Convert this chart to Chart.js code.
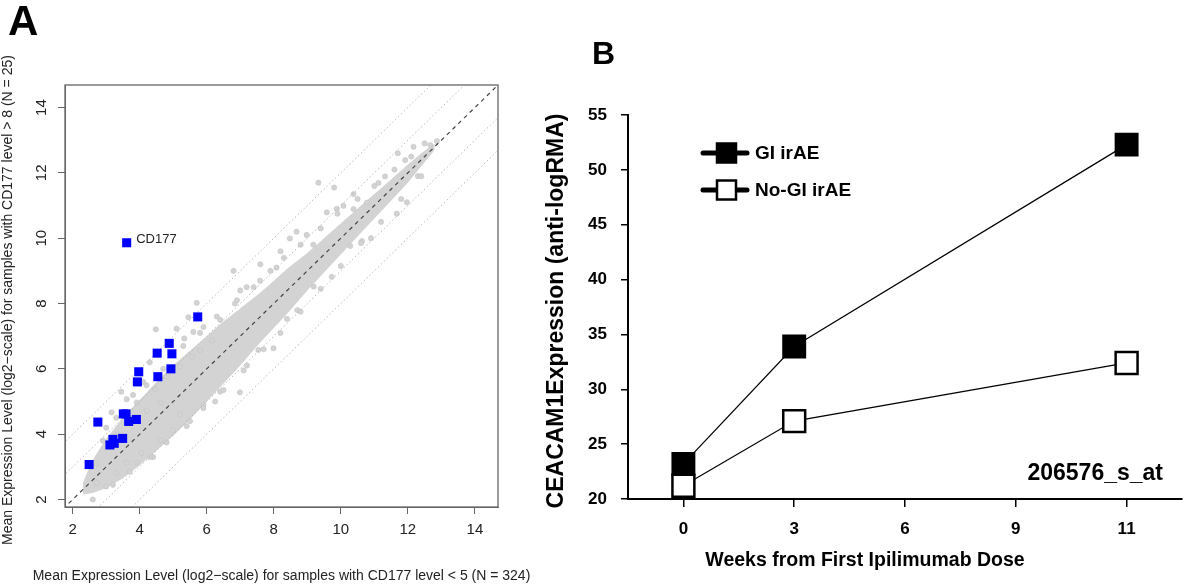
<!DOCTYPE html>
<html><head><meta charset="utf-8">
<script src="https://cdn.jsdelivr.net/npm/chart.js@4/dist/chart.umd.min.js"></script>
<style>
html,body{margin:0;padding:0;background:#fff;width:1200px;height:586px;overflow:hidden}
#wrap{position:relative;width:1200px;height:586px}
canvas{position:absolute;top:0}
#cA{left:0}
#cB{left:520px}
</style></head><body>
<div id="wrap"><canvas id="cA" width="545" height="586"></canvas><canvas id="cB" width="680" height="586"></canvas></div>
<script>
// ---------- Panel A data ----------
const xTicksA = [2, 4, 6, 8, 10, 12, 14];
const yTicksA = [2, 4, 6, 8, 10, 12, 14];
const xTitleA = 'Mean Expression Level (log2\u2212scale) for samples with CD177 level < 5 (N = 324)';
const yTitleA = 'Mean Expression Level (log2\u2212scale) for samples with CD177 level > 8 (N = 25)';
const blueX = [3.61, 5.73, 4.88, 4.52, 4.96, 4.93, 3.97, 4.54, 3.93, 3.51, 3.59, 2.75, 3.67, 3.90, 3.49, 3.20, 3.11, 3.24, 2.49];
const blueY = [9.86, 7.59, 6.78, 6.48, 6.46, 6.00, 5.91, 5.76, 5.60, 4.62, 4.62, 4.37, 4.39, 4.45, 3.87, 3.84, 3.67, 3.72, 3.07];
const blueLabels = ['CD177'];
// dense cloud of genes: edges of the band
const bandX     = [2.3, 2.6, 3.0, 3.5, 4.0, 4.5, 5.0, 5.5, 6.0, 6.5, 7.0, 7.5, 8.0, 8.5, 9.0, 9.5, 10.0, 10.5, 11.0, 11.5, 12.0, 12.4, 12.8];
const bandUpper = [2.5, 3.2, 3.85, 4.5, 5.05, 5.6, 6.1, 6.55, 7.0, 7.45, 7.85, 8.25, 8.7, 9.15, 9.55, 10.0, 10.45, 10.9, 11.35, 11.8, 12.25, 12.6, 12.9];
const bandLower = [2.15, 2.2, 2.35, 2.65, 3.05, 3.5, 3.95, 4.45, 5.0, 5.55, 6.1, 6.7, 7.25, 7.8, 8.4, 8.95, 9.5, 10.05, 10.6, 11.15, 11.7, 12.2, 12.7];
// scattered genes around and outside the dense band
const grayX = [2.71, 3.16, 3.56, 3.31, 4.21, 4.61, 3.61, 3.91, 4.46, 4.81, 5.21, 5.56, 5.80, 6.15, 4.48, 5.10, 5.33, 5.60, 5.90, 6.40, 5.45, 5.70, 6.84, 6.80, 7.19, 7.59, 8.08, 8.48, 8.68, 8.98, 9.18, 9.58, 10.08, 10.38, 10.78, 11.12, 11.32, 11.92, 9.33, 9.80, 11.70, 12.17, 12.67, 12.87, 10.38, 9.88, 3.00, 2.90, 3.45, 4.10, 4.30, 7.00, 7.60, 8.20,
               6.99, 7.54, 7.99, 8.39, 9.73, 11.97, 11.67, 10.63, 10.28, 9.19, 6.40, 6.25, 5.00, 4.61, 4.05, 3.61, 3.31, 3.91, 2.72, 5.50, 5.90, 7.20, 8.70, 10.90, 12.30, 4.40, 5.20, 3.00,
               3.3, 3.8, 4.2, 4.7, 5.3, 5.8, 6.3, 6.9, 7.4, 7.9, 8.3, 8.8, 9.4, 9.9, 10.5, 11.0, 11.6, 12.1, 12.5,
               3.2, 3.7, 4.3, 4.8, 5.4, 5.9, 6.5, 7.1, 7.7, 8.2, 8.8, 9.4, 10.0, 10.6, 11.2, 11.8, 12.4, 2.6];
const grayY = [3.10, 4.67, 4.57, 3.97, 4.72, 4.97, 5.07, 4.97, 5.37, 5.77, 6.07, 6.37, 6.57, 6.87, 7.21, 7.23, 6.93, 7.13, 7.28, 7.50, 7.58, 8.02, 8.00, 9.00, 8.50, 8.70, 9.10, 9.99, 10.20, 10.10, 9.80, 10.79, 10.99, 10.89, 11.09, 11.69, 11.89, 12.39, 11.70, 11.55, 12.60, 12.80, 12.85, 12.97, 11.35, 10.90, 4.20, 3.80, 5.30, 5.60, 6.20, 8.40, 9.20, 9.60,
               5.28, 6.58, 6.63, 7.53, 8.82, 11.10, 10.75, 9.91, 9.76, 8.52, 5.30, 5.00, 4.12, 3.82, 3.42, 3.12, 2.82, 3.12, 2.50, 4.40, 4.90, 6.10, 7.80, 10.00, 11.90, 3.30, 4.60, 2.40,
               4.5, 5.2, 5.5, 6.0, 6.7, 7.1, 7.6, 8.1, 8.5, 9.0, 9.4, 9.8, 10.3, 10.75, 11.2, 11.6, 12.1, 12.5, 12.9,
               2.45, 2.85, 3.3, 3.75, 4.25, 4.8, 5.35, 5.95, 6.6, 7.1, 7.75, 8.45, 9.15, 9.85, 10.5, 11.2, 11.9, 2.0];
const refOffsets = [-2, -1, 0, 1, 2];

// ---------- Panel B data ----------
const weeks = ['0', '3', '6', '9', '11'];
const giIrAE   = [23.2, 33.9, null, null, 52.3];
const noGiIrAE = [21.2, 27.1, null, null, 32.4];
const yTicksB = [20, 25, 30, 35, 40, 45, 50, 55];
const seriesNames = ['GI irAE', 'No-GI irAE'];
const probeLabel = '206576_s_at';
const xTitleB = 'Weeks from First Ipilimumab Dose';
const yTitleB = 'CEACAM1Expression (anti-logRMA)';

const FAM = '"Liberation Sans", Arial, Helvetica, sans-serif';
Chart.defaults.font.family = FAM;
Chart.defaults.animation = false;

// ---------- Panel A ----------
const pts = (xs, ys) => xs.map((v, i) => ({x: v, y: ys[i]}));
const AMIN = 1.77, AMAX = 14.69;
const refDatasets = refOffsets.map(k => ({
  type: 'line',
  data: [{x: 0, y: 0 + k}, {x: 16, y: 16 + k}],
  borderColor: k === 0 ? '#444' : '#b8b8b8',
  borderWidth: k === 0 ? 1.2 : 1,
  borderDash: k === 0 ? [4, 4] : [1.5, 2.5],
  pointRadius: 0, fill: false, order: 1
}));

const panelAPlugin = {
  id: 'panelA',
  afterDraw(chart) {
    const {ctx, chartArea: a, scales: {x, y}} = chart;
    ctx.save();
    ctx.strokeStyle = '#666'; ctx.lineWidth = 1.3;
    ctx.strokeRect(a.left, a.top, a.right - a.left, a.bottom - a.top);
    ctx.fillStyle = '#222';
    ctx.font = '15px ' + FAM;
    ctx.textAlign = 'center'; ctx.textBaseline = 'middle';
    yTicksA.forEach(v => {
      const py = y.getPixelForValue(v);
      ctx.save(); ctx.translate(a.left - 23, py); ctx.rotate(-Math.PI / 2);
      ctx.fillText(String(v), 0, 0); ctx.restore();
    });
    // axis titles
    ctx.font = '14px ' + FAM;
    ctx.fillText(xTitleA, (a.left + a.right) / 2, 576);
    ctx.save(); ctx.translate(8, (a.top + a.bottom) / 2 + 4); ctx.rotate(-Math.PI / 2);
    ctx.fillText(yTitleA, 0, 0); ctx.restore();
    // CD177 label
    const px = x.getPixelForValue(blueX[0]), py = y.getPixelForValue(blueY[0]);
    ctx.textAlign = 'left'; ctx.font = '13px ' + FAM;
    ctx.fillText(blueLabels[0], px + 9.5, py - 3);
    ctx.fillStyle = '#000'; ctx.font = 'bold 42px ' + FAM;
    ctx.textBaseline = 'alphabetic';
    ctx.fillText('A', 8, 35);
    ctx.restore();
  }
};

new Chart(document.getElementById('cA'), {
  type: 'scatter',
  data: {
    datasets: [
      {label: 'genes', data: pts(blueX, blueY), pointStyle: 'rect', pointRadius: 6.4, backgroundColor: '#0000ff', borderColor: '#0000ff', borderWidth: 0, order: 0},
      ...refDatasets,
      {label: 'scatter', data: pts(grayX, grayY), pointRadius: 2.6, backgroundColor: '#d3d3d3', borderColor: '#c4c4c4', borderWidth: 0.6, order: 2},
      {type: 'line', label: 'bandLow', data: pts(bandX, bandLower), borderWidth: 0, pointRadius: 0, fill: false, order: 3, borderColor: 'rgba(0,0,0,0)'},
      {type: 'line', label: 'bandUp', data: pts(bandX, bandUpper), borderWidth: 0, pointRadius: 0, fill: '-1', backgroundColor: '#d3d3d3', borderColor: 'rgba(0,0,0,0)', order: 3, tension: 0.2}
    ]
  },
  options: {
    responsive: false,
    events: [],
    layout: {padding: {top: 85, right: 47, left: 0, bottom: 0}},
    plugins: {legend: {display: false}, tooltip: {enabled: false}},
    scales: {
      x: {
        type: 'linear', min: AMIN, max: AMAX,
        afterBuildTicks: s => { s.ticks = xTicksA.map(v => ({value: v})); },
        afterFit: s => { s.height = 79; },
        grid: {drawOnChartArea: false, drawTicks: true, tickLength: 7, color: '#666'},
        border: {display: true, color: '#666'},
        ticks: {font: {size: 15}, color: '#222', padding: 7, maxRotation: 0, autoSkip: false}
      },
      y: {
        type: 'linear', min: AMIN, max: AMAX,
        afterBuildTicks: s => { s.ticks = yTicksA.map(v => ({value: v})); },
        afterFit: s => { s.width = 65; },
        grid: {drawOnChartArea: false, drawTicks: true, tickLength: 7, color: '#666'},
        border: {display: true, color: '#666'},
        ticks: {display: false}
      }
    }
  },
  plugins: [panelAPlugin]
});

// ---------- Panel B ----------
const panelBPlugin = {
  id: 'panelB',
  afterDraw(chart) {
    const {ctx, chartArea: a} = chart;
    ctx.save();
    ctx.fillStyle = '#000';
    ctx.font = 'bold 32px ' + FAM;
    ctx.textAlign = 'left'; ctx.textBaseline = 'alphabetic';
    ctx.fillText('B', 72, 64);
    // legend
    const rows = [a.top + 38, a.top + 75];
    const fills = ['#000', '#fff'];
    rows.forEach((ry, i) => {
      ctx.strokeStyle = '#000'; ctx.lineWidth = 5; ctx.lineCap = 'round';
      ctx.beginPath(); ctx.moveTo(a.left + 75, ry); ctx.lineTo(a.left + 119, ry); ctx.stroke();
      ctx.lineCap = 'butt';
      ctx.fillStyle = fills[i]; ctx.lineWidth = 2.5;
      ctx.fillRect(a.left + 89, ry - 9.5, 19, 19);
      ctx.strokeRect(a.left + 89, ry - 9.5, 19, 19);
      ctx.fillStyle = '#000';
      ctx.font = 'bold 19px ' + FAM;
      ctx.textBaseline = 'middle';
      ctx.fillText(seriesNames[i], a.left + 127, ry + 1);
    });
    // probe label
    ctx.font = 'bold 23px ' + FAM;
    ctx.textAlign = 'right'; ctx.textBaseline = 'middle';
    ctx.fillText(probeLabel, 643, 474);
    // axis titles
    ctx.font = 'bold 19.5px ' + FAM;
    ctx.textAlign = 'center';
    ctx.fillText(xTitleB, 345, 561);
    ctx.font = 'bold 23px ' + FAM;
    ctx.save(); ctx.translate(37, 311); ctx.rotate(-Math.PI / 2);
    ctx.fillText(yTitleB, 0, 0); ctx.restore();
    ctx.restore();
  }
};

new Chart(document.getElementById('cB'), {
  type: 'line',
  data: {
    labels: weeks,
    datasets: [
      {label: seriesNames[0], data: giIrAE, spanGaps: true, borderColor: '#000', borderWidth: 1.2,
       pointStyle: 'rect', pointRadius: 15.5, pointBorderWidth: 2, pointBackgroundColor: '#000', pointBorderColor: '#000', clip: false},
      {label: seriesNames[1], data: noGiIrAE, spanGaps: true, borderColor: '#000', borderWidth: 1.2,
       pointStyle: 'rect', pointRadius: 15.5, pointBorderWidth: 2.5, pointBackgroundColor: '#fff', pointBorderColor: '#000', clip: false}
    ]
  },
  options: {
    responsive: false,
    events: [],
    layout: {padding: {top: 115, right: 0, left: 0, bottom: 0}},
    plugins: {legend: {display: false}, tooltip: {enabled: false}},
    scales: {
      x: {
        type: 'category', offset: true,
        afterFit: s => { s.height = 87; },
        grid: {drawOnChartArea: false, offset: false, drawTicks: true, tickLength: 8, color: '#000', lineWidth: 1.5},
        border: {display: true, color: '#000', width: 2},
        ticks: {font: {size: 17, weight: 'bold'}, color: '#000', padding: 12, maxRotation: 0, autoSkip: false}
      },
      y: {
        type: 'linear', min: 20, max: 55,
        afterBuildTicks: s => { s.ticks = yTicksB.map(v => ({value: v})); },
        afterFit: s => { s.width = 108; },
        grid: {drawOnChartArea: false, drawTicks: true, tickLength: 7, color: '#000', lineWidth: 1.5},
        border: {display: true, color: '#000', width: 2},
        ticks: {font: {size: 17, weight: 'bold'}, color: '#000', padding: 14}
      }
    }
  },
  plugins: [panelBPlugin]
});
</script>
</body></html>
